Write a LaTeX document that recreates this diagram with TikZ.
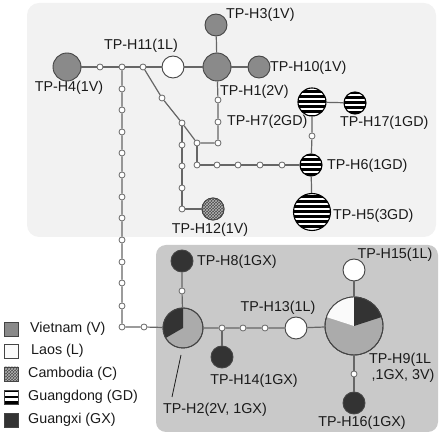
\documentclass[tikz,border=0pt]{standalone}
\usepackage{fontspec}
\setmainfont{Liberation Sans}
\usetikzlibrary{patterns}
\definecolor{vgray}{HTML}{8A8A8A}
\definecolor{pgray}{HTML}{ABABAB}
\definecolor{gxblack}{HTML}{333333}
\definecolor{ltbg}{HTML}{F2F2F2}
\definecolor{dkbg}{HTML}{C9C9C9}
\definecolor{edgec}{HTML}{666666}
\definecolor{outc}{HTML}{444444}
\definecolor{txtc}{HTML}{1A1A1A}
\definecolor{cambg}{HTML}{4A4A4A}
\definecolor{campat}{HTML}{B5B5B5}
\newcommand\gdhap[4]{%
  \fill[white] (#2,#3) circle[radius=#4pt];
  \begin{scope}
    \clip (#2,#3) circle[radius=#4pt];
    \foreach \k in {-4,...,4} \fill[black] (#2-#4,#3+\k*5-1.5) rectangle (#2+#4,#3+\k*5+1.5);
  \end{scope}
  \node[hap, draw=black, line width=1.1pt, minimum size={2*#4pt}] (#1) at (#2,#3) {};
}
\begin{document}
\begin{tikzpicture}[x=1pt,y=-1pt,
  font=\fontsize{14.3}{16}\selectfont,
  hap/.style={circle, draw=outc, line width=0.9pt, inner sep=0pt},
  sm/.style={circle, draw=edgec, fill=white, line width=0.8pt, inner sep=0pt, minimum size=6pt},
  edge/.style={draw=edgec, line width=1.2pt},
  lab/.style={text=txtc, inner sep=0pt},
  legbox/.style={draw=outc, line width=0.8pt, minimum size=14pt, inner sep=0pt}]
\useasboundingbox (0,0) rectangle (440,435);
% background boxes
\fill[ltbg, rounded corners=12pt] (27,3) rectangle (436,237);
\fill[dkbg, rounded corners=10pt] (156,245) rectangle (438,432);

% haplotypes
\node[hap, fill=vgray, minimum size=28pt] (h4) at (67,67) {};
\node[hap, fill=white, minimum size=22pt] (h11) at (173,67) {};
\node[hap, fill=vgray, minimum size=28pt] (h1) at (217,67) {};
\node[hap, fill=vgray, minimum size=22pt] (h3) at (216,25) {};
\node[hap, fill=vgray, minimum size=22pt] (h10) at (259,67) {};
\gdhap{h7}{312}{102}{14}
\gdhap{h17}{355}{103}{11}
\gdhap{h6}{311}{165}{11}
\gdhap{h5}{312}{212}{18.5}
% Cambodia
\node[hap, fill=cambg, minimum size=22pt] (h12bg) at (213,209) {};
\fill[pattern=crosshatch, pattern color=campat] (213,209) circle[radius=11pt];
\node[hap, minimum size=22pt] (h12) at (213,209) {};

\node[hap, fill=gxblack, minimum size=22pt] (h8) at (182,261) {};
\node[hap, fill=pgray, minimum size=40pt] (h2) at (183,328) {};
\fill[gxblack] (h2.center) -- ++(90:20pt) arc[start angle=90, end angle=210, radius=20pt] -- cycle;
\node[hap, minimum size=40pt] at (183,328) {};
\node[hap, fill=gxblack, minimum size=22pt] (h14) at (222,357) {};
\node[hap, fill=white, minimum size=22pt] (h13) at (296,328) {};
\node[hap, fill=pgray, minimum size=58pt] (h9) at (354,326) {};
\fill[white!96!gray] (h9.center) -- ++(90:29pt) arc[start angle=90, end angle=162, radius=29pt] -- cycle;
\fill[gxblack] (h9.center) -- ++(18:29pt) arc[start angle=18, end angle=90, radius=29pt] -- cycle;
\node[hap, minimum size=58pt] at (354,326) {};
\node[hap, fill=white, minimum size=22pt] (h15) at (354,270) {};
\node[hap, fill=gxblack, minimum size=22pt] (h16) at (354,403) {};

% median vectors
\node[sm] (a1) at (100,67) {};
\node[sm] (a2) at (122,67) {};
\node[sm] (a3) at (143,67) {};
\foreach \i/\y in {1/89,2/110,3/132,4/153,5/175,6/197,7/218,8/240,9/262,10/283,11/306,12/327}
  \node[sm] (v\i) at (122,\y) {};
\node[sm] (b1) at (144,327) {};
\node[sm] (d1) at (162,98) {};
\node[sm] (d2) at (182,123) {};
\node[sm] (d3) at (197,143) {};
\node[sm] (e1) at (218,100) {};
\node[sm] (e2) at (218,122) {};
\node[sm] (e3) at (218,143) {};
\node[sm] (f1) at (182,145) {};
\node[sm] (f2) at (182,166) {};
\node[sm] (f3) at (182,188) {};
\node[sm] (f4) at (182,209) {};
\node[sm] (g1) at (197,165) {};
\node[sm] (g2) at (217,165) {};
\node[sm] (g3) at (238,165) {};
\node[sm] (g4) at (260,165) {};
\node[sm] (g5) at (282,165) {};
\node[sm] (k1) at (312,136) {};
\node[sm] (m1) at (182,291) {};
\node[sm] (n1) at (222,328) {};
\node[sm] (n2) at (243,328) {};
\node[sm] (n3) at (265,328) {};
\node[sm] (p1) at (354,374) {};

% connectors
\path[edge] (h4) -- (a1) -- (a2) -- (a3) -- (h11) -- (h1) -- (h10);
\path[edge] (h1) -- (h3);
\path[edge] (a2) -- (v1) -- (v2) -- (v3) -- (v4) -- (v5) -- (v6) -- (v7) -- (v8) -- (v9) -- (v10) -- (v11) -- (v12) -- (b1) -- (h2);
\path[edge] (a3) -- (d1) -- (d2) -- (d3) -- (e3) -- (e2) -- (e1) -- (h1);
\path[edge] (d2) -- (f1) -- (f2) -- (f3) -- (f4) -- (h12);
\path[edge] (d3) -- (g1) -- (g2) -- (g3) -- (g4) -- (g5) -- (h6);
\path[edge] (h7) -- (k1) -- (h6) -- (h5);
\path[edge] (h7) -- (h17);
\path[edge] (h2) -- (m1) -- (h8);
\path[edge] (h2) -- (n1) -- (n2) -- (n3) -- (h13) -- (h9);
\path[edge] (n1) -- (h14);
\path[edge] (h9) -- (h15);
\path[edge] (h9) -- (p1) -- (h16);

% labels
\node[lab, anchor=west] (t3) at (226,15) {TP-H3(1V)};
\node[lab] (t11) at (141,46) {TP-H11(1L)};
\node[lab] (t4) at (69,88) {TP-H4(1V)};
\node[lab, anchor=west] (t10) at (270,68) {TP-H10(1V)};
\node[lab, anchor=west] (t1) at (220,92) {TP-H1(2V)};
\node[lab, anchor=west] (t7) at (227,122) {TP-H7(2GD)};
\node[lab, anchor=west] (t17) at (340,123) {TP-H17(1GD)};
\node[lab, anchor=west] (t6) at (327,166) {TP-H6(1GD)};
\node[lab, anchor=west] (t5) at (333,216) {TP-H5(3GD)};
\node[lab] (t12) at (210,230) {TP-H12(1V)};
\node[lab, anchor=west] (t8) at (197,262) {TP-H8(1GX)};
\node[lab] (t13) at (278,308) {TP-H13(1L)};
\node[lab] (t14) at (254,381) {TP-H14(1GX)};
\node[lab] (t2) at (215,410) {TP-H2(2V, 1GX)};
\coordinate (l2a) at (181,355);
\coordinate (l2b) at (172,397);
\draw[txtc, line width=0.8pt] (l2a) -- (l2b);
\node[lab] (t15) at (395,255) {TP-H15(1L)};
\node[lab, anchor=west, align=left] (t9) at (369,368) {TP-H9(1L\\\,,1GX, 3V)};
\node[lab] (t16) at (362,423) {TP-H16(1GX)};

% legend
\node[legbox, fill=vgray] (lg1) at (11,329) {};
\node[legbox, fill=white!96!gray] (lg2) at (11,351) {};
\node[legbox, fill=cambg] (lg3) at (11,374) {};
\fill[pattern=crosshatch, pattern color=campat] (4,367) rectangle (18,381);
\node[legbox] at (11,374) {};
\node[legbox, fill=white] (lg4) at (11,397) {};
\fill[black] (4,390) rectangle (18,392.5);
\fill[black] (4,395.8) rectangle (18,398.3);
\fill[black] (4,401.5) rectangle (18,404);
\node[legbox] at (11,397) {};
\node[legbox, fill=gxblack] (lg5) at (11,420) {};
\node[lab, anchor=west] at (30,329) {Vietnam (V)};
\node[lab, anchor=west] at (31,351) {Laos (L)};
\node[lab, anchor=west] at (28,374) {Cambodia (C)};
\node[lab, anchor=west] at (28,397) {Guangdong (GD)};
\node[lab, anchor=west] at (28,420) {Guangxi (GX)};
\end{tikzpicture}
\end{document}
